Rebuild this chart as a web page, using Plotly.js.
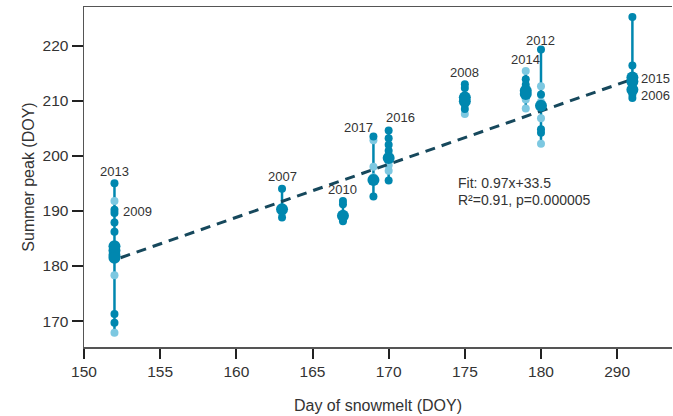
<!DOCTYPE html>
<html>
<head>
<meta charset="utf-8">
<script src="https://cdn.plot.ly/plotly-3.0.1.min.js"></script>
<style>html,body{margin:0;padding:0;background:#fff;}#chart{width:673px;height:416px;}</style>
</head>
<body>
<div id="chart"></div>
<script>
// Day of snowmelt (x) for each year cluster
const clusterX = [152, 163, 167, 169, 170, 175, 179, 180, 186];
// Summer peak values (DOY) per cluster, by marker style
const darkY = [
  [195.0, 190.2, 189.6, 187.9, 186.2, 171.3, 169.7],
  [194.0, 188.8],
  [191.8, 191.2, 188.5, 188.1],
  [203.5, 192.6],
  [204.6, 203.2, 202.0, 200.9, 195.5],
  [213.0, 212.3, 209.3, 208.5],
  [213.9, 212.9],
  [219.3, 211.1, 204.8, 204.2],
  [225.2, 216.4, 212.9, 211.1, 210.5]
];
const bigY = [
  [183.6, 182.8, 182.0, 181.5],
  [190.3],
  [189.1],
  [195.6],
  [199.6],
  [210.6, 209.9],
  [211.8, 211.2],
  [209.1],
  [214.2, 213.5, 212.0]
];
const lightY = [
  [191.8, 178.3, 167.9],
  [189.6],
  [],
  [202.8, 198.0, 196.1],
  [198.3, 197.3],
  [207.6],
  [215.4, 210.2, 208.6],
  [212.6, 209.8, 206.8, 202.2],
  []
];
// Year labels
const yearLabels = ["2013", "2009", "2007", "2010", "2017", "2016", "2008", "2014", "2012", "2015", "2006"];
const labelX = [152, 152.45, 163, 167, 168.05, 170.75, 175, 179, 180, 186.45, 186.45];
const labelY = [197.2, 189.9, 196.2, 193.8, 205.2, 206.9, 215.2, 217.5, 221.0, 214.0, 211.0];
// Regression line
const fitX = [152.4, 186];
const fitY = [181.5, 213.9];
const fitText = ["Fit: 0.97x+33.5", "R\u00b2=0.91, p=0.000005"];

const dark = 'rgb(0,135,175)';
const light = 'rgb(125,200,225)';
const traces = [];
clusterX.forEach((x, i) => {
  const all = darkY[i].concat(bigY[i], lightY[i]);
  traces.push({x: [x, x], y: [Math.min(...all), Math.max(...all)], mode: 'lines',
    line: {color: dark, width: 2.5}, hoverinfo: 'skip', showlegend: false});
});
const lx = [], ly = [], dx = [], dy = [], bx = [], by = [];
clusterX.forEach((x, i) => {
  lightY[i].forEach(v => { lx.push(x); ly.push(v); });
  darkY[i].forEach(v => { dx.push(x); dy.push(v); });
  bigY[i].forEach(v => { bx.push(x); by.push(v); });
});
traces.push({x: lx, y: ly, mode: 'markers', marker: {color: light, size: 8}, showlegend: false});
traces.push({x: fitX, y: fitY, mode: 'lines', line: {color: 'rgb(22,72,92)', width: 3, dash: '10px,7px'}, showlegend: false});
traces.push({x: dx, y: dy, mode: 'markers', marker: {color: dark, size: 8}, showlegend: false});
traces.push({x: bx, y: by, mode: 'markers', marker: {color: dark, size: 12}, showlegend: false});

const ann = yearLabels.map((t, i) => ({x: labelX[i], y: labelY[i], text: t, showarrow: false,
  xanchor: (i === 1 || i >= 9) ? 'left' : 'center', yanchor: 'middle',
  font: {family: 'Liberation Sans, Arial, sans-serif', size: 13, color: '#333'}}));
fitText.forEach((t, i) => ann.push({x: 174.45, y: 195.1 - i * 3.1, text: t, showarrow: false,
  xanchor: 'left', yanchor: 'middle', font: {family: 'Liberation Sans, Arial, sans-serif', size: 14, color: '#333'}}));

const layout = {
  width: 673, height: 416,
  margin: {l: 84, r: 1, t: 7, b: 69},
  paper_bgcolor: '#fff', plot_bgcolor: '#fff',
  font: {family: 'Liberation Sans, Arial, sans-serif', color: '#333'},
  xaxis: {range: [150, 188.6], tickvals: [150,155,160,165,170,175,180,185],
    ticktext: ['150','155','160','165','170','175','180','290'],
    showgrid: false, zeroline: false, showline: true, linecolor: '#555', linewidth: 1.5, mirror: true,
    ticks: 'outside', ticklen: 10, tickwidth: 2, tickcolor: '#222',
    tickfont: {size: 15.5, color: '#333'},
    title: {text: 'Day of snowmelt (DOY)', font: {size: 16, color: '#333'}, standoff: 20}},
  yaxis: {range: [165.3, 227], tickvals: [170,180,190,200,210,220],
    showgrid: false, zeroline: false, showline: true, linecolor: '#555', linewidth: 1.5,
    ticks: 'outside', ticklen: 11, tickwidth: 2, tickcolor: '#222',
    tickfont: {size: 15.5, color: '#333'},
    title: {text: 'Summer peak (DOY)', font: {size: 16, color: '#333'}, standoff: 4}},
  annotations: ann
};
Plotly.newPlot('chart', traces, layout, {staticPlot: true});
</script>
</body>
</html>
